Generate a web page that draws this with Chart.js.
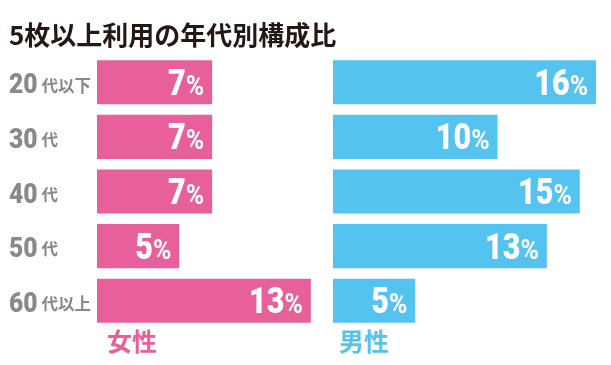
<!DOCTYPE html>
<html>
<head>
<meta charset="UTF-8">
<title>5枚以上利用の年代別構成比</title>
<script src="https://cdn.jsdelivr.net/npm/chart.js"></script>
<style>
  body { margin: 0; background: #fff; }
  .wrap { position: relative; width: 611px; height: 365px; }
  .wrap canvas { position: absolute; left: 0; top: 0; }
</style>
</head>
<body>
<div class="wrap">
  <canvas id="femaleChart" width="611" height="365"></canvas>
  <canvas id="maleChart" width="611" height="365"></canvas>
</div>
<script>
// data
const chartTitle = "5枚以上利用の年代別構成比";
const ageGroups = ["20代以下", "30代", "40代", "50代", "60代以上"];
const femaleShare = [7, 7, 7, 5, 13];
const maleShare = [16, 10, 15, 13, 5];
const seriesNames = ["女性", "男性"];

const PINK = "#E8609B";
const BLUE = "#54C3F0";
const GRAY = "#898989";
const NUM_FONT = 'Roboto, sans-serif';
const JP_FONT = '"Noto Sans CJK JP", sans-serif';

// squeeze text horizontally (the original uses a condensed face)
function squeezed(ctx, text, x, y, align, sx) {
  ctx.save();
  ctx.translate(x, y);
  ctx.scale(sx, 1);
  ctx.textAlign = align;
  ctx.fillText(text, 0, 0);
  const w = ctx.measureText(text).width * sx;
  ctx.restore();
  return w;
}

// value labels at the end of each bar: big number + small %
const valueLabels = {
  id: "valueLabels",
  afterDatasetsDraw(chart) {
    const ctx = chart.ctx;
    const meta = chart.getDatasetMeta(0);
    const data = chart.data.datasets[0].data;
    ctx.save();
    ctx.fillStyle = "#fff";
    ctx.textBaseline = "alphabetic";
    meta.data.forEach((bar, i) => {
      const right = bar.x - 8;
      const base = bar.y + 12.5;
      ctx.font = "bold 27px " + NUM_FONT;
      const pw = squeezed(ctx, "%", right, base, "right", 0.92);
      ctx.font = "900 36px " + NUM_FONT;
      squeezed(ctx, String(data[i]), right - pw, base, "right", 0.85);
    });
    ctx.restore();
  }
};

// title, age labels and series names
const sideTexts = {
  id: "sideTexts",
  afterDraw(chart) {
    const ctx = chart.ctx;
    const y = chart.scales.y;
    ctx.save();
    ctx.fillStyle = "#231815";
    ctx.textAlign = "left";
    ctx.textBaseline = "middle";
    ctx.font = "bold 26px " + JP_FONT;
    ctx.fillText(chartTitle, 9, 35);

    ctx.fillStyle = GRAY;
    ageGroups.forEach((label, i) => {
      const cy = y.getPixelForValue(i);
      const m = label.match(/^(\d+)(.*)$/);
      ctx.textBaseline = "alphabetic";
      ctx.font = "900 28px " + NUM_FONT;
      const w = squeezed(ctx, m[1], 9, cy + 11, "left", 0.88);
      ctx.textBaseline = "middle";
      ctx.font = "bold 16.5px " + JP_FONT;
      ctx.fillText(m[2], 9 + w + 4, cy + 3);
    });

    ctx.font = "bold 25px " + JP_FONT;
    ctx.fillStyle = PINK;
    ctx.fillText(seriesNames[0], 107, 341);
    ctx.fillStyle = BLUE;
    ctx.fillText(seriesNames[1], 339, 341);
    ctx.restore();
  }
};

function barOptions(padLeft, padRight, max) {
  return {
    indexAxis: "y",
    responsive: false,
    animation: false,
    layout: { padding: { left: padLeft, right: padRight, top: 55, bottom: 37 } },
    plugins: { legend: { display: false }, tooltip: { enabled: false } },
    scales: {
      x: { display: false, min: 0, max: max },
      y: { display: false }
    }
  };
}

new Chart(document.getElementById("femaleChart"), {
  type: "bar",
  data: {
    labels: ageGroups,
    datasets: [{
      label: seriesNames[0],
      data: femaleShare,
      backgroundColor: PINK,
      categoryPercentage: 1,
      barPercentage: 0.807
    }]
  },
  options: barOptions(97, 611 - 97 - 14 * 16.45, 14),
  plugins: [valueLabels, sideTexts]
});

new Chart(document.getElementById("maleChart"), {
  type: "bar",
  data: {
    labels: ageGroups,
    datasets: [{
      label: seriesNames[1],
      data: maleShare,
      backgroundColor: BLUE,
      categoryPercentage: 1,
      barPercentage: 0.807
    }]
  },
  options: barOptions(333, 611 - 333 - 16 * 16.45, 16),
  plugins: [valueLabels]
});
</script>
</body>
</html>
